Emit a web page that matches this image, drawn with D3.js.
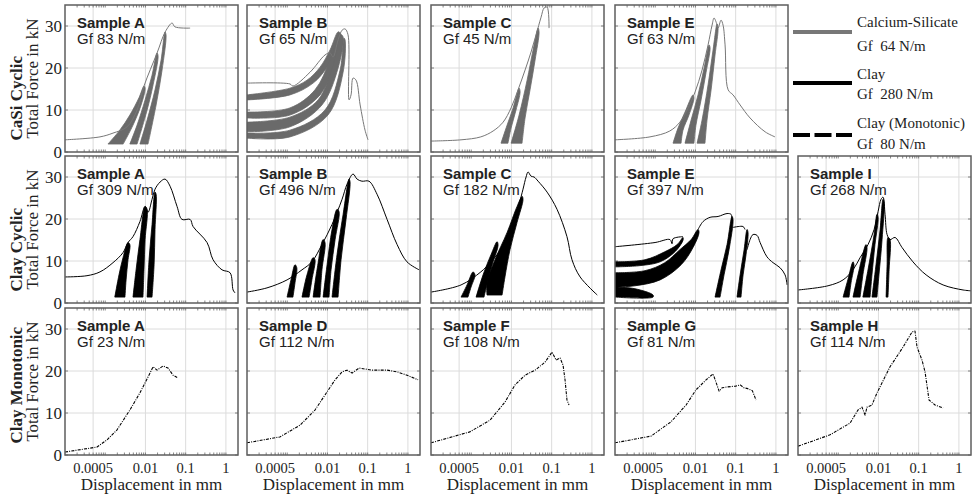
<!DOCTYPE html>
<html>
<head>
<meta charset="utf-8">
<script src="https://cdn.jsdelivr.net/npm/d3@7"></script>
<style>
body { margin: 0; background: #fff; }
text { font-family: "Liberation Serif", "Times New Roman", serif; fill: #222; }
.samp { font-family: "Liberation Sans", Arial, sans-serif; }
</style>
</head>
<body>
<svg id="chart" width="975" height="499"></svg>
<script>
// axis values
var xTicks = [0.0005, 0.01, 0.1, 1];
var xTickLabels = ["0.0005", "0.01", "0.1", "1"];
var yTicks = [0, 10, 20, 30];
var rowNames = ["CaSi Cyclic", "Clay Cyclic", "Clay Monotonic"];
var legendNames = ["Calcium-Silicate", "Clay", "Clay (Monotonic)"];
var legendGf = ["Gf  64 N/m", "Gf  280 N/m", "Gf  80 N/m"];

// CaSi cyclic, [displacement mm, force kN]
var casiA_line = [[1e-4,2.9],[7.4e-4,3.6],[1.56e-3,4.5],[3.5e-3,6.0],[6.2e-3,10],[9.2e-3,15.7],[1.95e-2,23.6],[3.1e-2,28.6],[4.6e-2,30.7],[5.4e-2,29.8],[0.129,29.5]];
var casiA_loops = [
  [[1.17e-3,1.9],[2.3e-3,5.2],[4.1e-3,8.8],[6.9e-3,12.9],[9.2e-3,15.7],[9.8e-3,15.2],[7.8e-3,11.2],[4.9e-3,6.4],[2.8e-3,1.9]],
  [[4.1e-3,1.9],[6.2e-3,6.4],[9.8e-3,12.4],[1.46e-2,18.3],[1.94e-2,23.6],[2.06e-2,22.9],[1.55e-2,16.0],[1.1e-2,10.0],[6.2e-3,1.9]],
  [[7.3e-3,1.9],[1.1e-2,7.6],[1.73e-2,14.8],[2.45e-2,21.9],[3.07e-2,28.6],[3.25e-2,27.9],[2.59e-2,19.5],[1.84e-2,11.2],[1.16e-2,1.9]]
];
var casiB_line = [[1e-4,16.4],[1.17e-3,16.2],[1.39e-3,15.7],[3.69e-3,19.0],[8.7e-3,23.1],[1.16e-2,23.6],[1.38e-2,22.6],[1.84e-2,26.7],[2.31e-2,29.0],[2.74e-2,29.3],[3.25e-2,27.9],[3.45e-2,12.4],[3.86e-2,13.6],[4.33e-2,17.6],[5.14e-2,17.1],[6.5e-2,11.2],[8.6e-2,5.2],[0.102,2.9]];
var casiB_loops = [
  [[1e-4,13.6],[1.17e-3,15.2],[3.1e-3,17.1],[6.55e-3,20.2],[1.16e-2,24.3],[1.84e-2,28.6],[2.06e-2,28.3],[1.73e-2,25],[9.8e-3,20.2],[4.4e-3,16.4],[1.17e-3,13.6],[1e-4,12.4]],
  [[1e-4,9.5],[1.17e-3,10.5],[4.9e-3,14.8],[1.16e-2,21.9],[2.06e-2,28.3],[2.18e-2,27.9],[1.55e-2,21.4],[6.55e-3,13.6],[1.17e-3,8.8],[1e-4,8.1]],
  [[1e-4,7.1],[1.17e-3,8.3],[5.85e-3,12.4],[1.38e-2,20.7],[2.18e-2,27.9],[2.45e-2,27.4],[1.84e-2,20],[7.3e-3,11.2],[1.17e-3,6],[1e-4,4.8]],
  [[1e-4,4.5],[1.17e-3,5.2],[8.7e-3,10],[2.06e-2,19.5],[2.59e-2,27.1],[2.74e-2,26.7],[2.45e-2,19],[1.03e-2,8.8],[1.17e-3,3.6],[1e-4,3.3]]
];
var casiC_line = [[1e-4,2.6],[5.58e-4,2.9],[1.73e-3,3.6],[3.5e-3,5],[6.2e-3,7.1],[9.8e-3,10.5],[1.46e-2,14.8],[2.18e-2,19.5],[3.07e-2,23.8],[4.1e-2,27.9],[5.45e-2,32.1],[6.5e-2,34.3],[7.7e-2,34.5],[8.6e-2,29.5]];
var casiC_loops = [
  [[5.5e-3,2.1],[7.8e-3,6.4],[1.1e-2,10.5],[1.55e-2,15.2],[1.64e-2,14.3],[1.3e-2,10],[9.8e-3,5.7],[8.2e-3,2.1]],
  [[9.8e-3,2.1],[1.55e-2,8.8],[2.45e-2,17.1],[3.45e-2,24.3],[4.6e-2,29.5],[4.86e-2,28.6],[3.87e-2,21.9],[2.9e-2,14.8],[2.18e-2,8.1],[1.84e-2,2.1]]
];
var casiE_line = [[1e-4,2.9],[7.4e-4,3.6],[2.3e-3,5],[4.1e-3,7.1],[6.2e-3,10],[9.8e-3,14.3],[1.46e-2,19.5],[2.06e-2,25.5],[2.59e-2,30.2],[2.9e-2,31.9],[3.25e-2,31],[3.65e-2,29.5],[4.33e-2,31.4],[4.86e-2,30.2],[5.45e-2,25.5],[6.5e-2,14.8],[8.6e-2,13.6],[0.129,11.2],[0.228,8.1],[0.54,4.8],[0.95,3.6]];
var casiE_loops = [
  [[2.77e-3,2.1],[3.69e-3,5.7],[5.5e-3,9.5],[8.7e-3,13.6],[9.2e-3,12.9],[6.9e-3,8.8],[4.9e-3,5.2],[4.4e-3,2.1]],
  [[5.5e-3,2.1],[7.8e-3,7.6],[1.16e-2,13.6],[1.64e-2,20],[2.18e-2,25.5],[2.31e-2,24.8],[1.84e-2,19],[1.38e-2,12.4],[1.03e-2,6.4],[9.2e-3,2.1]],
  [[1.1e-2,2.1],[1.46e-2,7.6],[2.06e-2,16],[2.74e-2,24.3],[3.45e-2,30.5],[3.65e-2,29.5],[3.07e-2,23.1],[2.45e-2,14.8],[1.94e-2,7.6],[1.73e-2,2.1]]
];

// Clay cyclic
var clayA_line = [[1e-4,6.2],[3.52e-4,6.5],[7.4e-4,7.4],[1.56e-3,9.6],[2.77e-3,12],[3.69e-3,14.4],[4.9e-3,15.8],[7.3e-3,19.4],[9.8e-3,23],[1.16e-2,21.6],[1.46e-2,24.7],[1.73e-2,27.1],[2.31e-2,28.8],[3.07e-2,29.5],[4.1e-2,27.8],[6.1e-2,23],[8.1e-2,19.9],[0.129,19.9],[0.153,18.2],[0.34,14.4],[0.48,10.3],[0.8,7.9],[1.27,7.2],[1.51,3.1],[1.69,2.4]];
var clayA_loops = [
  [[1.73e-3,1.4],[2.2e-3,6.7],[2.77e-3,10.8],[3.69e-3,14.4],[4.1e-3,13.9],[3.69e-3,10.3],[3.3e-3,5.5],[3.1e-3,1.4]],
  [[4.9e-3,1.4],[5.85e-3,7.9],[7.3e-3,15.1],[9.8e-3,23],[1.1e-2,22.3],[9.8e-3,15.1],[9.2e-3,7.9],[8.7e-3,1.4]],
  [[1.1e-2,1.4],[1.23e-2,10.3],[1.46e-2,18.7],[1.73e-2,26.4],[1.84e-2,25.9],[1.73e-2,17.5],[1.64e-2,9.1],[1.46e-2,1.4]]
];
var clayB_line = [[1e-4,2.6],[3.14e-4,3.6],[9.9e-4,5.5],[2.33e-3,7.9],[4.1e-3,9.8],[7.3e-3,13.9],[1.3e-2,18.7],[2.31e-2,24.7],[3.07e-2,28.3],[4.33e-2,30.7],[5.45e-2,29.5],[7.2e-2,29],[0.108,29],[0.171,25.9],[0.304,19.9],[0.54,13.9],[0.95,9.8],[1.9,7.9]];
var clayB_loops = [
  [[9.9e-4,1.4],[1.24e-3,5.5],[1.56e-3,9.1],[1.73e-3,8.4],[1.56e-3,4.8],[1.39e-3,1.4]],
  [[2.33e-3,1.4],[3.1e-3,6.7],[4.4e-3,10.8],[4.9e-3,10.3],[4.1e-3,5.5],[3.5e-3,1.4]],
  [[4.4e-3,1.4],[5.5e-3,7.9],[7.8e-3,15.1],[8.7e-3,14.4],[7.3e-3,7.9],[6.55e-3,1.4]],
  [[7.8e-3,1.4],[9.8e-3,9.1],[1.3e-2,17.5],[1.73e-2,22.3],[1.94e-2,21.8],[1.55e-2,15.1],[1.23e-2,7.9],[1.1e-2,1.4]],
  [[1.3e-2,1.4],[1.73e-2,11.5],[2.45e-2,21.1],[3.45e-2,29.5],[3.65e-2,28.8],[2.9e-2,19.9],[2.18e-2,10.3],[1.84e-2,1.4]]
];
var clayC_line = [[1e-4,2.6],[5.58e-4,4.3],[1.73e-3,7.4],[3.1e-3,9.8],[5.5e-3,12.7],[9.8e-3,16.3],[1.55e-2,23.5],[1.94e-2,27.1],[2.31e-2,30],[2.59e-2,31.2],[3.07e-2,30.2],[3.65e-2,30],[4.6e-2,29],[7.7e-2,26.4],[0.136,22.3],[0.24,15.8],[0.32,10.3],[0.51,6.2],[1.36,1.9]];
var clayC_loops = [
  [[5.58e-4,1.4],[7.87e-4,4.3],[1.11e-3,7.4],[1.24e-3,6.7],[9.9e-4,3.8],[8.3e-4,1.4]],
  [[1.32e-3,1.4],[1.97e-3,6.7],[3.1e-3,11.5],[4.4e-3,14.6],[4.65e-3,13.7],[3.5e-3,9.8],[2.62e-3,5.5],[2.08e-3,1.4]],
  [[2.47e-3,1.9],[2.47e-3,4.8],[3.9e-3,10.3],[7.8e-3,16.8],[1.38e-2,23],[1.84e-2,25.4],[1.94e-2,24.7],[1.38e-2,19.2],[9.2e-3,12.7],[6.9e-3,6.2],[5.85e-3,1.9]]
];
var clayE_lines = [
  [[1e-4,13.4],[9.9e-4,14.4],[2.33e-3,15.1],[2.62e-3,14.1],[2.77e-3,15.3],[4.9e-3,15.8]],
  [[1.16e-2,17.5],[1.55e-2,19.4],[2.31e-2,20.4],[3.65e-2,20.6],[6.1e-2,21.3],[7.7e-2,21.1],[8.1e-2,19.9]],
  [[8.6e-2,18],[0.115,18.2],[0.153,18.2],[0.171,17.5]],
  [[0.192,12.7],[0.228,15.1],[0.27,16.3],[0.34,16.1],[0.405,14.4],[0.6,11],[0.85,9.6],[1.27,8.4],[1.69,6.7],[1.9,4.3]]
];
var clayE_loops = [
  [[1e-4,9.8],[5.58e-4,10.3],[1.73e-3,12.2],[3.5e-3,13.9],[4.9e-3,15.6],[4.9e-3,14.9],[3.1e-3,12.2],[1.32e-3,9.8],[4.18e-4,8.9],[1e-4,8.6]],
  [[1e-4,7.2],[5.58e-4,7.7],[1.73e-3,9.6],[4.1e-3,12.7],[7.8e-3,15.1],[1.16e-2,17.5],[1.23e-2,16.8],[8.7e-3,13.2],[4.4e-3,9.1],[1.32e-3,5.5],[3.14e-4,4.1],[1e-4,3.8]],
  [[1e-4,3.8],[3.14e-4,3.4],[8.83e-4,1.9],[8.83e-4,1.4],[1e-4,1.4]],
  [[3.07e-2,1.4],[4.33e-2,7.9],[6.1e-2,13.9],[8.1e-2,20.6],[8.6e-2,19.9],[6.85e-2,12.7],[5.14e-2,6.7],[4.1e-2,1.4]],
  [[0.108,1.4],[0.129,6.7],[0.162,12.7],[0.192,17.5],[0.203,16.8],[0.181,11.5],[0.153,6.7],[0.136,1.4]]
];
var clayI_line = [[1e-4,3.1],[5.58e-4,4.1],[1.32e-3,5.5],[2.33e-3,7.9],[3.5e-3,10.8],[5.5e-3,13.9],[7.8e-3,17.5],[9.8e-3,21.8],[1.16e-2,24.7],[1.3e-2,25.2],[1.46e-2,21.1],[1.64e-2,16.3],[1.94e-2,15.1],[2.59e-2,15.6],[3.87e-2,13.2],[7.2e-2,9.8],[0.153,6.7],[0.405,4.3],[1.27,3.1],[2,2.9]];
var clayI_loops = [
  [[1.32e-3,1.4],[1.73e-3,5.5],[2.33e-3,9.8],[2.47e-3,9.1],[2.08e-3,4.8],[1.86e-3,1.4]],
  [[2.33e-3,1.4],[3.1e-3,6.7],[4.9e-3,13.9],[5.2e-3,13.2],[4.1e-3,6.7],[3.5e-3,1.4]],
  [[4.1e-3,1.4],[5.5e-3,7.9],[7.8e-3,16.3],[9.2e-3,21.1],[9.8e-3,20.4],[8.2e-3,13.9],[6.9e-3,6.7],[6.2e-3,1.4]],
  [[6.9e-3,1.4],[8.7e-3,9.1],[1.1e-2,17.5],[1.3e-2,24.7],[1.38e-2,24],[1.23e-2,15.1],[1.03e-2,6.7],[9.2e-3,1.4]],
  [[1.55e-2,1.4],[1.64e-2,9.1],[1.73e-2,15.6],[1.94e-2,15.1],[1.84e-2,7.9],[1.73e-2,1.4]]
];

// Clay monotonic
var monoA = [[1e-4,0.7],[6.26e-4,1.9],[1.11e-3,3.6],[1.97e-3,6.0],[4.1e-3,10.7],[7.3e-3,14.8],[1.3e-2,19.5],[1.55e-2,21.0],[1.94e-2,20.2],[2.74e-2,21.2],[3.65e-2,20.7],[4.86e-2,19.0],[6.5e-2,18.3]];
var monoD = [[1e-4,2.9],[6.55e-4,4.3],[2.08e-3,7.1],[4.9e-3,10.7],[8.7e-3,14.3],[1.55e-2,17.9],[2.31e-2,19.8],[3.07e-2,20.2],[4.1e-2,19.5],[6.1e-2,20.7],[0.129,20.2],[0.304,20.2],[0.54,19.8],[0.95,19.0],[1.79,17.9]];
var monoF = [[1e-4,2.9],[9.2e-4,5.5],[2.94e-3,8.3],[6.9e-3,12.6],[1.23e-2,16.7],[2.18e-2,19.0],[3.87e-2,20.2],[6.85e-2,22.1],[0.102,24.5],[0.129,22.6],[0.162,23.1],[0.192,21.4],[0.215,17.9],[0.24,13.1],[0.27,11.9]];
var monoG = [[1e-4,2.9],[7.87e-4,4.5],[2.47e-3,7.9],[5.85e-3,11.9],[1.03e-2,15.5],[1.84e-2,17.9],[2.74e-2,19.3],[3.2e-2,17.5],[3.87e-2,15.2],[4.6e-2,16.0],[6.1e-2,16.2],[0.1,16.4],[0.13,16.7],[0.16,16.0],[0.2,15.8],[0.26,15.3],[0.32,13.1]];
var monoH = [[1e-4,2.1],[6.26e-4,4.8],[1.97e-3,7.6],[3.1e-3,10.7],[3.9e-3,11.4],[4.65e-3,9.5],[5.2e-3,11.4],[6.9e-3,11.9],[9.2e-3,14.8],[1.94e-2,21],[4.1e-2,25.7],[6.85e-2,29.3],[8.1e-2,29.5],[9.1e-2,25.7],[0.121,22.6],[0.144,19.8],[0.181,13.1],[0.256,11.9],[0.405,11.2]];

var panels = [
  {row: 0, col: 0, sample: "Sample A", gf: "Gf 83 N/m",  lines: [casiA_line], loops: casiA_loops},
  {row: 0, col: 1, sample: "Sample B", gf: "Gf 65 N/m",  lines: [casiB_line], loops: casiB_loops},
  {row: 0, col: 2, sample: "Sample C", gf: "Gf 45 N/m",  lines: [casiC_line], loops: casiC_loops},
  {row: 0, col: 3, sample: "Sample E", gf: "Gf 63 N/m",  lines: [casiE_line], loops: casiE_loops},
  {row: 1, col: 0, sample: "Sample A", gf: "Gf 309 N/m", lines: [clayA_line], loops: clayA_loops},
  {row: 1, col: 1, sample: "Sample B", gf: "Gf 496 N/m", lines: [clayB_line], loops: clayB_loops},
  {row: 1, col: 2, sample: "Sample C", gf: "Gf 182 N/m", lines: [clayC_line], loops: clayC_loops},
  {row: 1, col: 3, sample: "Sample E", gf: "Gf 397 N/m", lines: clayE_lines,  loops: clayE_loops},
  {row: 1, col: 4, sample: "Sample I", gf: "Gf 268 N/m", lines: [clayI_line], loops: clayI_loops},
  {row: 2, col: 0, sample: "Sample A", gf: "Gf 23 N/m",  lines: [monoA], loops: []},
  {row: 2, col: 1, sample: "Sample D", gf: "Gf 112 N/m", lines: [monoD], loops: []},
  {row: 2, col: 2, sample: "Sample F", gf: "Gf 108 N/m", lines: [monoF], loops: []},
  {row: 2, col: 3, sample: "Sample G", gf: "Gf 81 N/m",  lines: [monoG], loops: []},
  {row: 2, col: 4, sample: "Sample H", gf: "Gf 114 N/m", lines: [monoH], loops: []}
];

var svg = d3.select("#chart");
var colLeft = [65, 247, 431, 615, 798],
    rowTop = [5, 156, 308],
    pw = 173,
    ph = 147;
var rowColor = ["#777", "#000", "#000"],
    loopColor = ["#6a6a6a", "#000", "#000"];

var x = d3.scaleLog().domain([1e-4, 2]).range([0, pw]);
var y = d3.scaleLinear().domain([0, 35]).range([ph, 0]);
var line = d3.line()
  .x(function (d) { return x(d[0]); })
  .y(function (d) { return y(d[1]); })
  .curve(d3.curveCatmullRom.alpha(0.5));
var sharpLine = d3.line()
  .x(function (d) { return x(d[0]); })
  .y(function (d) { return y(d[1]); });

var minor = [];
for (var e = -4; e <= 0; e++) {
  for (var k = 1; k < 10; k++) {
    var v = k * Math.pow(10, e);
    if (v > 1e-4 && v < 2) minor.push(v);
  }
}

svg.append("defs").append("clipPath").attr("id", "pclip")
  .append("rect").attr("width", pw).attr("height", ph);

panels.forEach(function (p) {
  var g = svg.append("g")
    .attr("transform", "translate(" + colLeft[p.col] + "," + rowTop[p.row] + ")");

  // grid
  g.selectAll(".vgrid").data(xTicks).enter().append("line")
    .attr("x1", function (d) { return x(d); }).attr("x2", function (d) { return x(d); })
    .attr("y1", 0).attr("y2", ph)
    .attr("stroke", "#dcdcdc").attr("stroke-width", 1);
  g.selectAll(".hgrid").data(yTicks.slice(1)).enter().append("line")
    .attr("x1", 0).attr("x2", pw)
    .attr("y1", function (d) { return y(d); }).attr("y2", function (d) { return y(d); })
    .attr("stroke", "#dcdcdc").attr("stroke-width", 1);

  // minor ticks top and bottom
  [0, ph].forEach(function (yy) {
    g.selectAll(null).data(minor).enter().append("line")
      .attr("x1", function (d) { return x(d); }).attr("x2", function (d) { return x(d); })
      .attr("y1", yy).attr("y2", yy === 0 ? 2.5 : ph - 2.5)
      .attr("stroke", "#666").attr("stroke-width", 0.8);
  });
  [0, pw].forEach(function (xx) {
    g.selectAll(null).data(yTicks).enter().append("line")
      .attr("x1", xx).attr("x2", xx === 0 ? 3 : pw - 3)
      .attr("y1", function (d) { return y(d); }).attr("y2", function (d) { return y(d); })
      .attr("stroke", "#666").attr("stroke-width", 0.8);
  });

  var plot = g.append("g").attr("clip-path", "url(#pclip)");
  plot.selectAll(".loop").data(p.loops).enter().append("path")
    .attr("d", function (d) { return line(d) + "Z"; })
    .attr("fill", loopColor[p.row])
    .attr("stroke", loopColor[p.row])
    .attr("stroke-width", 0.8)
    .attr("stroke-linejoin", "round");
  plot.selectAll(".curve").data(p.lines).enter().append("path")
    .attr("d", p.row === 2 ? sharpLine : line)
    .attr("fill", "none")
    .attr("stroke", rowColor[p.row])
    .attr("stroke-width", p.row === 2 ? 1.1 : 1)
    .attr("stroke-dasharray", p.row === 2 ? "3,1.2,1,1.2" : null)
    .attr("stroke-linejoin", "round");

  // frame
  g.append("rect")
    .attr("width", pw).attr("height", ph)
    .attr("fill", "none").attr("stroke", "#5e5e5e").attr("stroke-width", 1.5);

  g.append("text").attr("class", "samp")
    .attr("x", 12).attr("y", 23)
    .attr("font-size", 15).attr("font-weight", "bold").attr("fill", "#111")
    .text(p.sample);
  g.append("text").attr("class", "samp")
    .attr("x", 12).attr("y", 38.5)
    .attr("font-size", 15).attr("fill", "#111")
    .text(p.gf);

  if (p.col === 0) {
    g.selectAll(".ytl").data(yTicks).enter().append("text")
      .attr("x", -3).attr("y", function (d) { return y(d); })
      .attr("dy", "0.35em").attr("text-anchor", "end")
      .attr("font-size", 17)
      .text(function (d) { return d; });
  }
  if (p.row === 2) {
    g.selectAll(".xtl").data(xTicks).enter().append("text")
      .attr("x", function (d) { return x(d); }).attr("y", ph + 18)
      .attr("text-anchor", "middle")
      .attr("font-size", 14.5)
      .text(function (d, i) { return xTickLabels[i]; });
    g.append("text")
      .attr("x", pw / 2).attr("y", ph + 35)
      .attr("text-anchor", "middle")
      .attr("font-size", 17)
      .text("Displacement in mm");
  }
});

// row titles
rowNames.forEach(function (name, i) {
  var cy = rowTop[i] + ph / 2;
  svg.append("text")
    .attr("transform", "translate(22," + (cy + 62) + ") rotate(-90)")
    .attr("font-size", 17).attr("font-weight", "bold")
    .text(name);
  svg.append("text")
    .attr("transform", "translate(38," + cy + ") rotate(-90)")
    .attr("text-anchor", "middle")
    .attr("font-size", 17)
    .text("Total Force in kN");
});

// legend
var legY = [32, 83, 135],
    legNameY = [27, 79, 128],
    legGfY = [51, 99, 149];
legendNames.forEach(function (name, i) {
  svg.append("line")
    .attr("x1", 793).attr("x2", 852)
    .attr("y1", legY[i]).attr("y2", legY[i])
    .attr("stroke", i === 0 ? "#777" : "#000")
    .attr("stroke-width", 4)
    .attr("stroke-dasharray", i === 2 ? "17,4.5" : null);
  svg.append("text")
    .attr("x", 857).attr("y", legNameY[i])
    .attr("font-size", 15)
    .text(name);
  svg.append("text")
    .attr("x", 857).attr("y", legGfY[i])
    .attr("font-size", 15)
    .style("white-space", "pre")
    .text(legendGf[i]);
});
</script>
</body>
</html>
